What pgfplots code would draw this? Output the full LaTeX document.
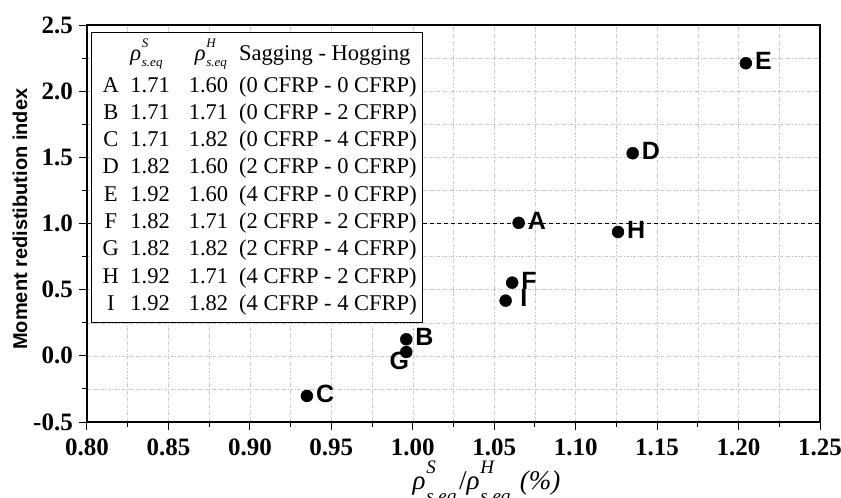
\documentclass[border=0pt]{standalone}
\usepackage{fontspec}
\setmainfont{Liberation Serif}
\setsansfont{Liberation Sans}
\usepackage{pgfplots}
\usepackage{pgfplotstable}
\pgfplotsset{compat=1.18}

% rho with stacked super- and subscript: #1 sup, #2 script size, #3 raise, #4 drop
\newcommand\rhoe[4]{\textit{ρ}\kern0.03em\rlap{\raisebox{#3}{\fontsize{#2}{#2}\selectfont\itshape #1}}%
  \raisebox{-#4}{\fontsize{#2}{#2}\selectfont\itshape s.eq}}

% points: ratio rho_S/rho_H, moment redistribution index, label
\pgfplotstableread{
x      y      lab
1.065  1.005  A
0.996  0.125  B
0.935  -0.303 C
1.135  1.531  D
1.2045 2.211  E
1.061  0.553  F
1.126  0.936  H
}\ptsmain
\pgfplotstableread{
x      y      lab
1.057  0.417  I
}\ptsI
\pgfplotstableread{
x      y      lab
0.996  0.029  G
}\ptsG

\begin{document}
\begin{tikzpicture}
\useasboundingbox (-87pt,-76pt) rectangle (754pt,422pt);
\begin{axis}[
    scale only axis,
    width=733pt, height=397pt,
    xmin=0.8, xmax=1.25, ymin=-0.5, ymax=2.5,
    xtick={0.8,0.85,0.9,0.95,1.0,1.05,1.1,1.15,1.2,1.25},
    ytick={-0.5,0,0.5,1,1.5,2,2.5},
    minor x tick num=1, minor y tick num=1,
    grid=both,
    grid style={gray!45, line width=0.5pt, dash pattern=on 3pt off 1.5pt on 1pt off 1.5pt},
    minor grid style={gray!45, line width=0.5pt, dash pattern=on 3pt off 1.5pt on 1pt off 1.5pt},
    tick align=outside, tick pos=left,
    major tick length=8pt, minor tick length=5pt,
    tick style={black, line width=1pt},
    axis line style={line width=1.2pt},
    /pgf/number format/assume math mode=true,
    ticklabel style={font=\fontsize{25}{30}\selectfont\bfseries, inner sep=0pt},
    xticklabel style={/pgf/number format/.cd, fixed, fixed zerofill, precision=2},
    yticklabel style={/pgf/number format/.cd, fixed, fixed zerofill, precision=1},
    xticklabel shift=9pt,
    yticklabel shift=6pt,
    xlabel={\rhoe{S}{19}{0.6em}{0.45em}\kern0.1em/\rhoe{H}{19}{0.6em}{0.45em}\kern0.35em\textit{(\%)}},
    xlabel style={font=\fontsize{27}{30}\selectfont, at={(axis description cs:0.545,0)}, anchor=north, yshift=-39pt, inner sep=0pt},
    ylabel={Moment redistibution index},
    ylabel style={font=\fontsize{20}{24}\selectfont\sffamily\bfseries, at={(axis description cs:-0.0914,0.511)}, anchor=center, inner sep=0pt},
    clip=false,
]
\addplot[black, dash pattern=on 4pt off 3pt, line width=0.8pt] coordinates {(0.8,1) (1.25,1)};

\addplot[only marks, mark=*, mark size=6pt, black,
    nodes near coords, point meta=explicit symbolic,
    every node near coord/.append style={font=\fontsize{25}{30}\selectfont\sffamily\bfseries,
        anchor=west, inner sep=0pt, xshift=9pt, yshift=2pt}]
    table[x=x, y=y, meta=lab] {\ptsmain};
\addplot[only marks, mark=*, mark size=6pt, black,
    nodes near coords, point meta=explicit symbolic,
    every node near coord/.append style={font=\fontsize{25}{30}\selectfont\sffamily\bfseries,
        anchor=west, inner sep=0pt, xshift=14.5pt, yshift=2.5pt}]
    table[x=x, y=y, meta=lab] {\ptsI};
\addplot[only marks, mark=*, mark size=6pt, black,
    nodes near coords, point meta=explicit symbolic,
    every node near coord/.append style={font=\fontsize{25}{30}\selectfont\sffamily\bfseries,
        anchor=north east, inner sep=0pt, xshift=3pt, yshift=0pt}]
    table[x=x, y=y, meta=lab] {\ptsG};

% key box
\draw[fill=white, line width=0.8pt] ([xshift=4pt,yshift=-7pt]rel axis cs:0,1) rectangle ([xshift=335pt,yshift=-297pt]rel axis cs:0,1);
\node[anchor=base west, inner sep=0pt, xshift=15.5pt, yshift=-35pt, font=\fontsize{22.5}{27.3}\selectfont]
    at (rel axis cs:0,1) {%
\begin{tabular}[t]{@{}c@{\hspace{11.5pt}}l@{\hspace{19pt}}r@{\hspace{11pt}}l@{}}
  & \rhoe{S}{13}{0.55em}{0.3em} & \multicolumn{1}{l}{\rhoe{H}{13}{0.55em}{0.3em}} & Sagging - Hogging\\[4.7pt]
A & 1.71 & 1.60 & (0 CFRP - 0 CFRP)\\
B & 1.71 & 1.71 & (0 CFRP - 2 CFRP)\\
C & 1.71 & 1.82 & (0 CFRP - 4 CFRP)\\
D & 1.82 & 1.60 & (2 CFRP - 0 CFRP)\\
E & 1.92 & 1.60 & (4 CFRP - 0 CFRP)\\
F & 1.82 & 1.71 & (2 CFRP - 2 CFRP)\\
G & 1.82 & 1.82 & (2 CFRP - 4 CFRP)\\
H & 1.92 & 1.71 & (4 CFRP - 2 CFRP)\\
I & 1.92 & 1.82 & (4 CFRP - 4 CFRP)
\end{tabular}};
\end{axis}
\end{tikzpicture}
\end{document}
